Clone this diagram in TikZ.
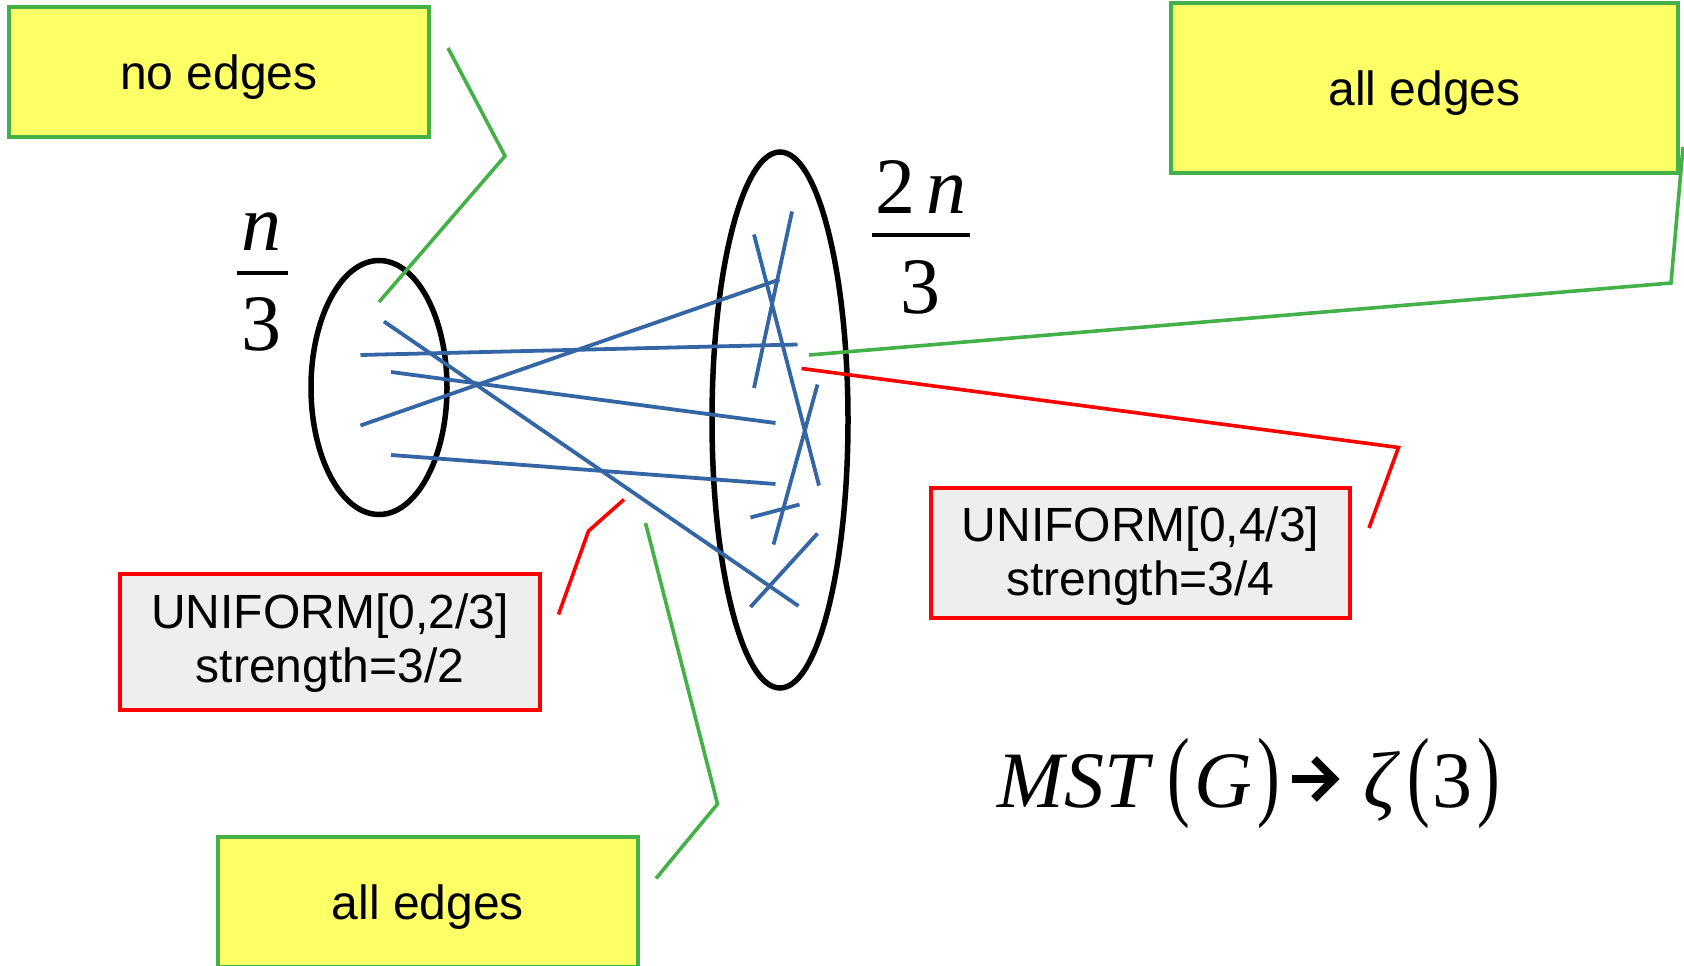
\documentclass[tikz,border=0pt]{standalone}
\usepackage{fontspec}
\usepackage{graphicx}
\setmainfont{Liberation Sans}
\newfontfamily\serifm{Liberation Serif}
\usetikzlibrary{shapes.geometric}
\definecolor{boxgreen}{RGB}{67,176,72}
\definecolor{boxyellow}{RGB}{255,255,102}
\definecolor{edgeblue}{RGB}{52,101,164}
\definecolor{boxgray}{RGB}{238,238,238}
\definecolor{lnred}{RGB}{255,0,0}
\tikzset{
  yellowbox/.style={draw=boxgreen, fill=boxyellow, line width=4pt, inner sep=0pt,
    minimum width=420pt, minimum height=130pt, text height=35pt, text depth=0pt,
    font=\fontsize{48}{55}\selectfont},
  redbox/.style={draw=lnred, fill=boxgray, line width=4pt, inner sep=0pt},
  lbl/.style={font=\fontsize{48}{55}\selectfont, inner sep=0pt, anchor=base},
  greenline/.style={draw=boxgreen, line width=3.6pt},
  redline/.style={draw=lnred, line width=3.6pt},
  blueedge/.style={draw=edgeblue, line width=3.8pt},
  setring/.style={ellipse, draw=black, line width=5.5pt, inner sep=0pt},
  mathup/.style={font=\serifm\fontsize{80}{90}\selectfont, inner sep=0pt, anchor=base},
  mathit/.style={font=\serifm\itshape\fontsize{80}{90}\selectfont, inner sep=0pt, anchor=base},
  fracbar/.style={draw=black, line width=4pt}
}
\begin{document}
\begin{tikzpicture}[x=1pt,y=-1pt]
\useasboundingbox (0,0) rectangle (1684,966);

% boxes
\node[yellowbox] (noedges) at (219,71.7) {no edges};
\node[yellowbox, minimum width=507pt, minimum height=170pt] (alltop) at (1424.5,88) {all edges};
\node[yellowbox] (allbot) at (428,901.7) {all edges};

\node[redbox, minimum width=420pt, minimum height=136pt] (redleft) at (330,641.5) {};
\node[lbl] (rl1) at (330,628.3) {UNIFORM[0,2/3]};
\node[lbl] (rl2) at (330,682.7) {strength=3/2};

\node[redbox, minimum width=419pt, minimum height=130pt] (redright) at (1140.5,553) {};
\node[lbl] (rr1) at (1140.5,541.7) {UNIFORM[0,4/3]};
\node[lbl] (rr2) at (1140.5,595) {strength=3/4};

% sets
\node[setring, minimum width=136pt, minimum height=254pt] (small) at (379,387.5) {};
\node[setring, minimum width=136pt, minimum height=536pt] (big) at (780,420) {};

% edges
\coordinate (e1a) at (384,321.5);   \coordinate (e1b) at (798.5,606);
\coordinate (e2a) at (360.5,355);   \coordinate (e2b) at (797.5,344.5);
\coordinate (e3a) at (391,372);     \coordinate (e3b) at (775.5,423);
\coordinate (e4a) at (360.5,425.5); \coordinate (e4b) at (779.5,279.5);
\coordinate (e5a) at (391,455);     \coordinate (e5b) at (775.5,484);
\coordinate (e6a) at (792,211.5);   \coordinate (e6b) at (754,388);
\coordinate (e7a) at (754,234.5);   \coordinate (e7b) at (819,485.5);
\coordinate (e8a) at (817.5,384.5); \coordinate (e8b) at (773.5,544.5);
\coordinate (e9a) at (750.5,517.5); \coordinate (e9b) at (799.5,504.5);
\coordinate (e10a) at (817.5,533.5);\coordinate (e10b) at (750.5,607);
\foreach \i in {1,...,10} {\draw[blueedge] (e\i a) -- (e\i b);}

% callout lines
\coordinate (g1a) at (448,48);    \coordinate (g1b) at (505,156);   \coordinate (g1c) at (379,302);
\coordinate (g2a) at (1683,147);  \coordinate (g2b) at (1671,283);  \coordinate (g2c) at (809,355);
\coordinate (g3a) at (645.5,523); \coordinate (g3b) at (717.5,804); \coordinate (g3c) at (656,878.5);
\coordinate (r1a) at (624,499.5); \coordinate (r1b) at (588.5,531); \coordinate (r1c) at (558.5,614.5);
\coordinate (r2a) at (801.5,368.5); \coordinate (r2b) at (1398.5,447.5); \coordinate (r2c) at (1369,528);
\draw[greenline] (g1a) -- (g1b) -- (g1c);
\draw[greenline] (g2a) -- (g2b) -- (g2c);
\draw[greenline] (g3a) -- (g3b) -- (g3c);
\draw[redline] (r1a) -- (r1b) -- (r1c);
\draw[redline] (r2a) -- (r2b) -- (r2c);

% n/3
\node[mathit] (nA) at (261,250) {n};
\draw[fracbar] (237,273) -- (287.5,273);
\node[mathup] (dA) at (261.5,350) {3};

% 2n/3
\node[mathup] (twoB) at (895.5,213) {2};
\node[mathit] (nB) at (946.5,213) {n};
\draw[fracbar] (871.6,235) -- (970,235);
\node[mathup] (dB) at (920.5,313) {3};

% formula
\node[mathit] (mst) at (1073.5,807) {MST};
\node[mathup] (p1) at (1178.5,807) {\scalebox{0.85}[1.25]{(}};
\node[mathit] (gg) at (1223.5,807) {G};
\node[mathup] (p2) at (1268.5,807) {\scalebox{0.85}[1.25]{)}};
\coordinate (arA) at (1292,779); \coordinate (arB) at (1334,779);
\draw[line width=8pt] (arA) -- (arB);
\draw[line width=8pt, line join=miter] (1314,759) -- (arB) -- (1314,799);
\node[mathit] (zeta) at (1380,807) {ζ};
\node[mathup] (p3) at (1418.5,807) {\scalebox{0.85}[1.25]{(}};
\node[mathup] (three) at (1452.5,807) {3};
\node[mathup] (p4) at (1488.5,807) {\scalebox{0.85}[1.25]{)}};
\end{tikzpicture}
\end{document}
